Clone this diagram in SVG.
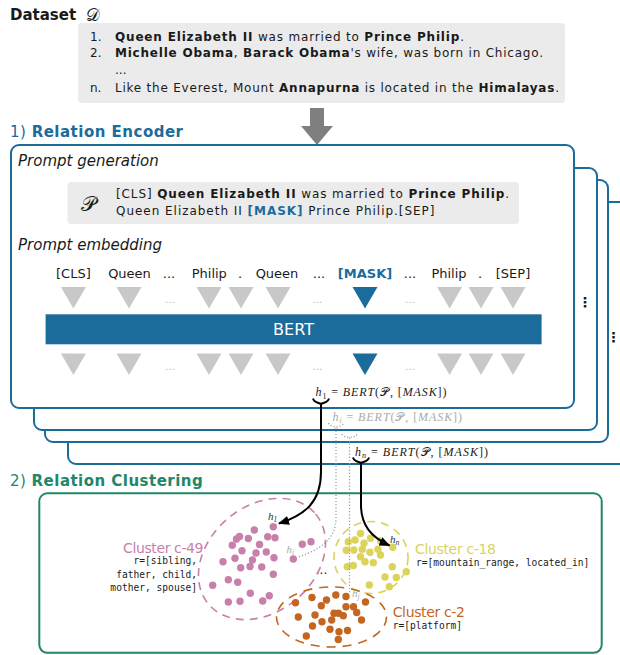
<svg xmlns="http://www.w3.org/2000/svg" width="620" height="655" viewBox="0 0 620 655">
<defs>
<style>
.t{font-family:"DejaVu Sans",Verdana,sans-serif;fill:#1a1a1a}
.b{font-weight:bold}
.it{font-style:italic}
.mr{font-family:"Liberation Serif","DejaVu Serif",serif;font-style:normal}
.m{font-family:"Liberation Serif","DejaVu Serif",serif;font-style:italic}
.sc{font-family:"DejaVu Serif","DejaVu Sans",serif;font-style:normal}
.mono{font-family:"DejaVu Sans Mono","Liberation Mono",monospace;font-size:9.6px;fill:#1a1a1a}
.box{fill:#fff;stroke:#1b6b9b;stroke-width:2}
.gbox{fill:#ebebeb}
.tri{fill:#c8c8c8}
.trib{fill:#1b6b9b}
.ell{fill:#b5b5b5;font-family:"DejaVu Sans",sans-serif;font-size:10px;text-anchor:middle}
.tok{font-family:"DejaVu Sans",sans-serif;font-size:13px;fill:#1a1a1a;text-anchor:middle}
.ct{font-family:"DejaVu Sans",sans-serif;font-size:14px}
.pk{fill:#c97fab}
.yl{fill:#dcd35a}
.or{fill:#c4661f}
.conn{fill:none;stroke:#000;stroke-width:2}
.dot{fill:none;stroke:#999;stroke-width:1.2;stroke-dasharray:1.2 2}
.lab{font-family:"Liberation Serif","DejaVu Serif",serif;font-style:italic;font-size:11px}
</style>
<marker id="ah" markerWidth="11" markerHeight="9" refX="10" refY="4.5" orient="auto" markerUnits="userSpaceOnUse"><path d="M0,0 L11,4.5 L0,9 z" fill="#000"/></marker>
<path id="tr" d="M-12.5,0 L12.5,0 L0,21.5 z"/>
</defs>

<g id="dataset">
<text x="10" y="20" class="t b" font-size="15">Dataset</text>
<text x="86" y="21" class="sc" font-size="17" fill="#1a1a1a">𝒟</text>
<rect x="78" y="23" width="487" height="80" rx="4" class="gbox"/>
<text x="90" y="40.7" class="t" font-size="12">1.</text>
<text x="115" y="40.7" class="t" font-size="12" textLength="349"><tspan class="b">Queen Elizabeth II</tspan> was married to <tspan class="b">Prince Philip</tspan>.</text>
<text x="90" y="57.3" class="t" font-size="12">2.</text>
<text x="115" y="57.3" class="t" font-size="12" textLength="428"><tspan class="b">Michelle Obama</tspan>, <tspan class="b">Barack Obama</tspan>'s wife, was born in Chicago.</text>
<text x="115" y="74" class="t" font-size="12">...</text>
<text x="90" y="91.7" class="t" font-size="12">n.</text>
<text x="115" y="91.7" class="t" font-size="12" textLength="444">Like the Everest, Mount <tspan class="b">Annapurna</tspan> is located in the <tspan class="b">Himalayas</tspan>.</text>
</g>

<path id="input-arrow" d="M310,108 H324 V126 H333 L317,145 L301,126 H310 Z" fill="#7f7f7f"/>

<text x="10" y="137" font-family="DejaVu Sans,sans-serif" font-size="15" fill="#1b6b9b" textLength="173">1) <tspan font-weight="bold">Relation Encoder</tspan></text>

<g id="encoder-stack">
<rect x="68" y="202" width="563" height="262" rx="8" class="box"/>
<rect x="45" y="180" width="563" height="262" rx="8" class="box"/>
<rect x="34" y="168" width="563" height="262" rx="8" class="box"/>
<text x="613.5" y="342" class="t b" font-size="14" text-anchor="middle">⋮</text>
<text x="585" y="307" class="t b" font-size="14" text-anchor="middle">⋮</text>
<text x="355" y="455.5" class="mr" font-size="12" fill="#1a1a1a" textLength="133"><tspan class="m">h</tspan><tspan font-size="8" dy="2.5" class="m">n</tspan><tspan dy="-2.5"> = </tspan><tspan class="m">BERT</tspan>(<tspan class="sc">𝒫</tspan>, [<tspan class="m">MASK</tspan>])</text>
<text x="332.5" y="420.7" class="mr" font-size="12" fill="#aaaaaa" textLength="129.5"><tspan class="m">h</tspan><tspan font-size="8" dy="2.5" class="m">i</tspan><tspan dy="-2.5"> = </tspan><tspan class="m">BERT</tspan>(<tspan class="sc">𝒫</tspan>, [<tspan class="m">MASK</tspan>])</text>
</g>

<g id="relation-encoder">
<rect x="11" y="145" width="563" height="263" rx="8" class="box"/>
<text x="18" y="166" class="t it" font-size="15">Prompt generation</text>
<rect x="67.5" y="182" width="451.5" height="42" rx="4" class="gbox"/>
<text x="81" y="211" class="sc" font-size="21" fill="#1a1a1a">𝒫</text>
<text x="116" y="198.3" class="t" font-size="12" textLength="393">[CLS] <tspan class="b">Queen Elizabeth II</tspan> was married to <tspan class="b">Prince Philip</tspan>.</text>
<text x="116" y="215" class="t" font-size="12" textLength="318.5">Queen Elizabeth II  <tspan class="b" fill="#1b6b9b">[MASK]</tspan> Prince Philip.[SEP]</text>
<text x="18" y="250" class="t it" font-size="15">Prompt embedding</text>
<text x="73.4" y="278.3" class="tok">[CLS]</text>
<text x="129.5" y="278.3" class="tok">Queen</text>
<text x="169" y="278.3" class="tok">...</text>
<text x="209.3" y="278.3" class="tok">Philip</text>
<text x="240" y="278.3" class="tok">.</text>
<text x="277" y="278.3" class="tok">Queen</text>
<text x="319" y="278.3" class="tok">...</text>
<text x="365" y="278.3" class="tok" font-weight="bold" style="fill:#1b6b9b">[MASK]</text>
<text x="410" y="278.3" class="tok">...</text>
<text x="449" y="278.3" class="tok">Philip</text>
<text x="480" y="278.3" class="tok">.</text>
<text x="513" y="278.3" class="tok">[SEP]</text>
<g class="tri">
<use href="#tr" x="73.4" y="287"/><use href="#tr" x="129" y="287"/><use href="#tr" x="209" y="287"/><use href="#tr" x="241" y="287"/><use href="#tr" x="278" y="287"/><use href="#tr" x="449.6" y="287"/><use href="#tr" x="481" y="287"/><use href="#tr" x="513" y="287"/>
<use href="#tr" x="73.4" y="353.5"/><use href="#tr" x="129" y="353.5"/><use href="#tr" x="209" y="353.5"/><use href="#tr" x="241" y="353.5"/><use href="#tr" x="278" y="353.5"/><use href="#tr" x="449.6" y="353.5"/><use href="#tr" x="481" y="353.5"/><use href="#tr" x="513" y="353.5"/>
</g>
<g class="trib"><use href="#tr" x="365" y="287"/><use href="#tr" x="365" y="353.5"/></g>
<text x="170" y="303" class="ell">…</text><text x="317.5" y="303" class="ell">…</text><text x="410" y="303" class="ell">…</text>
<text x="170" y="369.5" class="ell">…</text><text x="317.5" y="369.5" class="ell">…</text><text x="410" y="369.5" class="ell">…</text>
<rect x="45.6" y="314.3" width="496" height="30" fill="#1b6b9b"/>
<text x="293.5" y="335" font-family="DejaVu Sans,sans-serif" font-size="16" fill="#ffffff" text-anchor="middle">BERT</text>
<text x="315.5" y="396" class="mr" font-size="12" fill="#1a1a1a" textLength="131"><tspan class="m">h</tspan><tspan font-size="8" dy="2.5">1</tspan><tspan dy="-2.5"> = </tspan><tspan class="m">BERT</tspan>(<tspan class="sc">𝒫</tspan>, [<tspan class="m">MASK</tspan>])</text>
</g>

<text x="10" y="486" font-family="DejaVu Sans,sans-serif" font-size="15" fill="#21866a" textLength="192.7">2) <tspan font-weight="bold">Relation Clustering</tspan></text>

<g id="relation-clustering">
<rect x="39.3" y="493.3" width="562.4" height="159.5" rx="8" fill="none" stroke="#21866a" stroke-width="2"/>
<text x="321.5" y="574" class="t" font-size="12" text-anchor="middle">...</text>
</g>

<g id="cluster-c49">
<ellipse cx="262" cy="559" rx="70" ry="53" transform="rotate(-40 262 559)" fill="none" stroke="#c97fab" stroke-width="1.6" stroke-dasharray="8 6"/>
<g class="pk">
<circle cx="273.3" cy="526.7" r="3.7"/><circle cx="254.3" cy="530" r="3.7"/><circle cx="239.5" cy="536.5" r="3.7"/><circle cx="236.5" cy="539" r="3.7"/><circle cx="248.3" cy="538.5" r="3.7"/><circle cx="267.7" cy="536.7" r="3.7"/><circle cx="275" cy="537.7" r="3.7"/><circle cx="232.3" cy="545.3" r="3.7"/><circle cx="259.5" cy="544.5" r="3.7"/><circle cx="242" cy="550.7" r="3.7"/><circle cx="256" cy="553" r="3.7"/><circle cx="266.3" cy="552" r="3.7"/><circle cx="235" cy="558.3" r="3.7"/><circle cx="252.5" cy="560" r="3.7"/><circle cx="274" cy="557.7" r="3.7"/><circle cx="223" cy="561.7" r="3.7"/><circle cx="240.7" cy="567.7" r="3.7"/><circle cx="250" cy="566.5" r="3.7"/><circle cx="261.7" cy="567" r="3.7"/><circle cx="273.3" cy="574.3" r="3.7"/><circle cx="228.3" cy="579.7" r="3.7"/><circle cx="237.7" cy="582.3" r="3.7"/><circle cx="212.7" cy="585.3" r="3.7"/><circle cx="250.3" cy="593.3" r="3.7"/><circle cx="269.3" cy="595.7" r="3.7"/><circle cx="262.7" cy="601" r="3.7"/><circle cx="228.3" cy="602" r="3.7"/><circle cx="240" cy="601.3" r="3.7"/>
<circle cx="302.3" cy="544.3" r="3.7"/><circle cx="311" cy="541.7" r="3.7"/><circle cx="293.3" cy="559" r="3.7"/>
</g>
<text x="123" y="553" class="ct" fill="#c97fab" textLength="80.5">Cluster c-49</text>
<text x="197" y="564" class="mono" text-anchor="end">r=[sibling,</text>
<text x="197" y="577.7" class="mono" text-anchor="end">father, child,</text>
<text x="197" y="591.3" class="mono" text-anchor="end">mother, spouse]</text>
</g>

<g id="cluster-c18">
<ellipse cx="371" cy="557.5" rx="37" ry="36" fill="none" stroke="#dcd35a" stroke-width="1.6" stroke-dasharray="8 6"/>
<g class="yl">
<circle cx="360.5" cy="533.5" r="3.7"/><circle cx="348.3" cy="541.7" r="3.7"/><circle cx="355" cy="540" r="3.7"/><circle cx="370.5" cy="538.3" r="3.7"/><circle cx="364" cy="543.3" r="3.7"/><circle cx="346.3" cy="550.3" r="3.7"/><circle cx="353.8" cy="550" r="3.7"/><circle cx="362.3" cy="549.3" r="3.7"/><circle cx="370" cy="552.3" r="3.7"/><circle cx="378" cy="549.3" r="3.7"/><circle cx="380.5" cy="555" r="3.7"/><circle cx="360.5" cy="556.7" r="3.7"/><circle cx="365" cy="561.7" r="3.7"/><circle cx="373.3" cy="562.7" r="3.7"/><circle cx="392.7" cy="547.3" r="3.7"/><circle cx="380.5" cy="541" r="3.7"/><circle cx="353.3" cy="565.5" r="3.7"/><circle cx="347.3" cy="566.7" r="3.7"/><circle cx="392.3" cy="566.7" r="3.7"/><circle cx="385" cy="577" r="3.7"/><circle cx="396.3" cy="577.5" r="3.7"/><circle cx="406.3" cy="571.7" r="3.7"/><circle cx="369.3" cy="585" r="3.7"/><circle cx="389.3" cy="586.7" r="3.7"/>
</g>
<text x="415" y="554" class="ct" fill="#dcd35a" textLength="81">Cluster c-18</text>
<text x="416" y="565.7" class="mono">r=[mountain_range, located_in]</text>
</g>

<g id="cluster-c2">
<ellipse cx="331.5" cy="617" rx="55" ry="30" fill="none" stroke="#c4661f" stroke-width="1.6" stroke-dasharray="9 7"/>
<g class="or">
<circle cx="312" cy="597.5" r="3.7"/><circle cx="295.5" cy="602.7" r="3.7"/><circle cx="326.5" cy="600" r="3.7"/><circle cx="335.8" cy="595" r="3.7"/><circle cx="346" cy="596.5" r="3.7"/><circle cx="365.5" cy="602" r="3.7"/><circle cx="321.3" cy="605.8" r="3.7"/><circle cx="346" cy="606.7" r="3.7"/><circle cx="353.5" cy="606.7" r="3.7"/><circle cx="334" cy="613.3" r="3.7"/><circle cx="338.5" cy="613.3" r="3.7"/><circle cx="343.3" cy="615.7" r="3.7"/><circle cx="356.7" cy="612.5" r="3.7"/><circle cx="298.3" cy="617" r="3.7"/><circle cx="315" cy="615" r="3.7"/><circle cx="331.7" cy="620" r="3.7"/><circle cx="322" cy="621.7" r="3.7"/><circle cx="361.5" cy="620" r="3.7"/><circle cx="312.5" cy="626" r="3.7"/><circle cx="330" cy="629.3" r="3.7"/><circle cx="347.5" cy="630.5" r="3.7"/><circle cx="339" cy="631.7" r="3.7"/><circle cx="306.3" cy="636" r="3.7"/><circle cx="338.3" cy="639.5" r="3.7"/>
</g>
<text x="392.7" y="617.3" class="ct" fill="#c4661f" textLength="72.3">Cluster c-2</text>
<text x="392.7" y="629" class="mono">r=[platform]</text>
</g>

<g id="connectors">
<path d="M313,398.5 C314,402.5 318,402.5 321,404 C324,402.5 328,402.5 329,398.5" class="conn"/>
<path d="M321,404 V472 C321,502 305,515 279,523.5" class="conn" marker-end="url(#ah)"/>
<path d="M328.5,423 C329.5,426 333,426 336,427.5 C339,426 342.5,426 343.5,423" class="dot"/>
<path d="M336,427.5 V518 C336,538 322,549 298.5,557" class="dot"/>
<path d="M342,434 C343,437 346,436.5 349.5,437.5 C353,436.5 356,437 357,434" class="dot"/>
<path d="M349.5,437.5 V593" class="dot"/>
<path d="M353,457.5 C354,461.5 358,461.5 361,463 C364,461.5 368,461.5 369,457.5" class="conn"/>
<path d="M361,463 V505 C361,525 371,537 389.5,545.5" class="conn" marker-end="url(#ah)"/>
<text x="268" y="519.5" class="lab" fill="#333">h<tspan font-size="7.5" dy="2">1</tspan></text>
<text x="286.5" y="552.5" class="lab" fill="#aaaaaa">h<tspan font-size="7.5" dy="2">i</tspan></text>
<text x="390" y="542.5" class="lab" fill="#333">h<tspan font-size="7.5" dy="2">n</tspan></text>
<text x="352" y="596.5" class="lab" fill="#aaaaaa">h<tspan font-size="7.5" dy="2">j</tspan></text>
</g>
</svg>
